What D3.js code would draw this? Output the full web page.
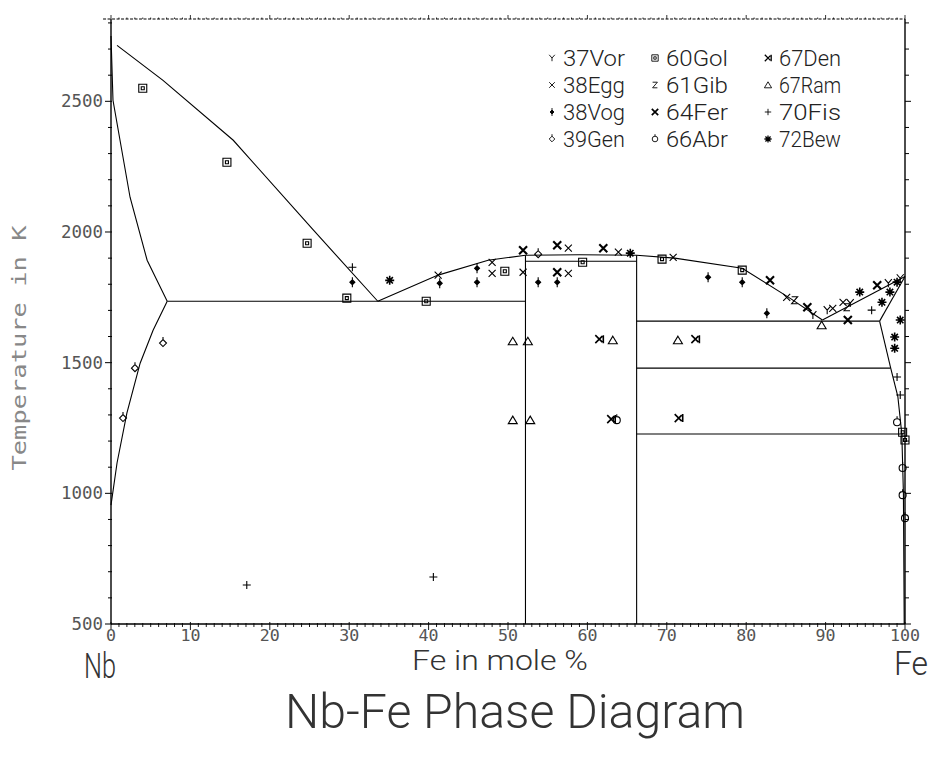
<!DOCTYPE html>
<html><head><meta charset="utf-8">
<script src="https://cdn.jsdelivr.net/npm/d3@7"></script>
<style>
html,body{margin:0;padding:0;background:#fff;}
svg{display:block;}
</style></head>
<body>
<svg id="chart" width="933" height="762"></svg>
<script>
// ---------- DATA ----------
const xTicks = [0,10,20,30,40,50,60,70,80,90,100];
const yTicks = [500,1000,1500,2000,2500];

// phase boundary lines [Fe mole %, T in K]
const nbLiquidus   = [[0.76,2714],[6.55,2580],[15.4,2351],[25.5,2007],[33.6,1735]];
const nbSolidus    = [[0,2750],[0.25,2504],[2.4,2133],[4.55,1892],[7.08,1735]];
const nbSolvus     = [[7.08,1735],[5.3,1624],[3.67,1498],[2.0,1307],[0.76,1116],[0,955]];
const eutecticNb   = [[7.08,1735],[52.2,1735]];
const liquidusMid  = [[33.6,1735],[41.2,1835],[47.5,1892],[52.2,1911],[59,1913],[66.2,1911],[71,1900],[79.5,1861],[85.5,1747],[89.6,1663]];
const muVertical   = [[52.2,1911],[52.2,500]];
const muPeritectic = [[52.2,1888],[66.2,1888]];
const lavesVertical= [[66.2,1911],[66.2,500]];
const liquidusFe   = [[89.6,1663],[100,1830]];
const eutecticFe   = [[66.2,1659],[96.8,1659]];
const deltaSolidus = [[96.8,1659],[100,1830]];
const deltaSolvus  = [[96.8,1659],[98.2,1479]];
const eutectoid1   = [[66.2,1479],[98.2,1479]];
const gammaSolvus  = [[98.2,1479],[99.1,1370],[99.6,1227]];
const eutectoid2   = [[66.2,1227],[99.8,1227]];
const alphaSolvus  = [[99.6,1227],[99.8,1000],[99.9,500]];

// experimental points per source
const s37Vor = [[88.4,1682],[90.2,1701],[93.1,1728],[97.9,1804],[99.4,1823]];
const s38Egg = [[48.0,1884],[48.0,1842],[57.6,1938],[57.6,1842],[63.9,1923],[70.8,1903],[51.9,1846],[41.2,1835],[85.1,1750],[90.9,1708],[92.2,1731]];
const s38Vog = [[30.4,1808],[41.4,1804],[46.1,1861],[46.1,1808],[53.8,1808],[56.2,1808],[75.2,1827],[79.5,1808],[82.6,1689]];
const s39Gen = [[6.55,1575],[3.02,1479],[1.51,1288],[53.8,1915]];
const s60Gol = [[4.0,2550],[14.6,2267],[24.7,1957],[29.7,1747],[39.7,1735],[49.6,1850],[59.4,1884],[69.4,1896],[79.5,1854],[99.7,1234],[100,1204]];
const s61Gib = [[86.1,1739],[92.7,1712]];
const s64Fer = [[51.9,1930],[56.2,1949],[56.2,1846],[62.0,1938],[83.0,1815],[96.5,1796],[92.8,1663],[87.7,1712]];
const s66Abr = [[99.0,1272],[99.7,1097],[99.7,993],[100,905],[63.7,1280]];
const s67Den = [[61.5,1590],[73.6,1590],[71.5,1288],[63.0,1284]];
const s67Ram = [[50.6,1582],[52.5,1582],[63.2,1586],[50.6,1280],[52.8,1280],[71.4,1586],[89.5,1643]];
const s70Fis = [[30.4,1865],[95.8,1701],[99.0,1445],[99.4,1376],[17.1,649],[40.6,680]];
const s72Bew = [[35.1,1815],[65.4,1919],[94.3,1770],[97.1,1731],[98.1,1770],[99.0,1808],[99.4,1663],[98.7,1598],[98.7,1555]];

const legendNames = ["37Vor","38Egg","38Vog","39Gen","60Gol","61Gib","64Fer","66Abr","67Den","67Ram","70Fis","72Bew"];
const legendSymbols = ["Y","x","vog","gen","sq","z","fer","abr","den","tri","plus","star"];
const seriesData = [s37Vor,s38Egg,s38Vog,s39Gen,s60Gol,s61Gib,s64Fer,s66Abr,s67Den,s67Ram,s70Fis,s72Bew];

// ---------- DRAW ----------
const svg = d3.select("#chart");
const x = d3.scaleLinear().domain([0,100]).range([111,905]);
const y = d3.scaleLinear().domain([500,2815]).range([624,19]);
const FONT = "'DejaVu Sans Mono', 'Liberation Mono', monospace";
const BIG = "'Roboto','Lato','DejaVu Sans',sans-serif";
const TXT = "#555";

// frame / axes
const g = svg.append("g");
g.append("line").attr("x1",x(0)).attr("x2",x(0)).attr("y1",y(2815)).attr("y2",y(500)).attr("stroke","#000").attr("stroke-width",1.4);
g.append("line").attr("x1",x(0)).attr("x2",x(100)).attr("y1",y(500)).attr("y2",y(500)).attr("stroke","#000").attr("stroke-width",1.4);
g.append("line").attr("x1",x(100)).attr("x2",x(100)).attr("y1",y(2815)).attr("y2",y(500)).attr("stroke","#000").attr("stroke-width",1.4);
g.append("line").attr("x1",x(-1)).attr("x2",x(100)).attr("y1",y(2815)).attr("y2",y(2815)).attr("stroke","#000").attr("stroke-width",1).attr("stroke-dasharray","3,1.5");

// y ticks every 100
const yMinor = d3.range(500,2801,100);
g.selectAll(".ylt").data(yMinor).join("line")
  .attr("x1",d=>x(0)-(d%500===0?6:3)).attr("x2",x(0)+1)
  .attr("y1",d=>y(d)).attr("y2",d=>y(d)).attr("stroke","#000").attr("stroke-width",1);
g.selectAll(".yrt").data(yMinor).join("line")
  .attr("x1",x(100)).attr("x2",d=>x(100)+(d%500===0?6:4))
  .attr("y1",d=>y(d)).attr("y2",d=>y(d)).attr("stroke","#000").attr("stroke-width",1);
// x ticks every 1 and 10
const xMinor = d3.range(0,101,1);
g.selectAll(".xbt").data(xMinor).join("line")
  .attr("x1",d=>x(d)).attr("x2",d=>x(d))
  .attr("y1",d=>y(500)-(d%10===0?2:1)).attr("y2",d=>y(500)+(d%10===0?6:3))
  .attr("stroke","#000").attr("stroke-width",0.9);
g.selectAll(".xtt").data(xMinor).join("line")
  .attr("x1",d=>x(d)).attr("x2",d=>x(d))
  .attr("y1",y(2815)).attr("y2",d=>y(2815)-(d%10===0?4:1.5))
  .attr("stroke","#000").attr("stroke-width",0.8);

// tick labels
g.selectAll(".xl").data(xTicks).join("text")
  .attr("x",d=>x(d)).attr("y",641).attr("text-anchor","middle")
  .attr("font-family",FONT).attr("font-size",15).attr("fill",TXT)
  .attr("textLength",d=>String(d).length*10).attr("lengthAdjust","spacingAndGlyphs").text(d=>d);
g.selectAll(".yl").data(yTicks).join("text")
  .attr("x",x(0)-8).attr("y",d=>y(d)+6).attr("text-anchor","end")
  .attr("font-family",FONT).attr("font-size",17).attr("fill",TXT)
  .attr("textLength",d=>String(d).length*10.5).attr("lengthAdjust","spacingAndGlyphs").text(d=>d);

// phase lines
const line = d3.line().x(d=>x(d[0])).y(d=>y(d[1]));
const lines = [nbLiquidus,nbSolidus,nbSolvus,eutecticNb,liquidusMid,muVertical,muPeritectic,lavesVertical,
  liquidusFe,eutecticFe,deltaSolidus,deltaSolvus,eutectoid1,gammaSolvus,eutectoid2,alphaSolvus];
svg.append("g").selectAll("path").data(lines).join("path")
  .attr("d",line).attr("fill","none").attr("stroke","#000").attr("stroke-width",1.1);

// symbols
const symPaths = {
  Y:"M-3.5,-4L0,0L3.5,-4M0,0L0,4",
  x:"M-3.5,-3.5L3.5,3.5M-3.5,3.5L3.5,-3.5",
  vog:"M0,-5L0,5M-2.5,0L0,-2.5L2.5,0L0,2.5Z",
  gen:"M0,-6L0,-3M-3.5,0L0,-3.5L3.5,0L0,3.5Z",
  sq:"M-4,-4h8v8h-8ZM-1.5,-1.5h3v3h-3Z",
  z:"M-3,-3.5h6L-3,3.5h6",
  fer:"M-4,-4L4,4M-4,4L4,-4",
  abr:"M0,-6L0,-3.5M3.5,0A3.5,3.5 0 1 1 -3.5,0A3.5,3.5 0 1 1 3.5,0",
  den:"M-4,-4L3,3M-4,4L3,-3M4,-4L4,4",
  tri:"M0,-4L4.5,3.5L-4.5,3.5Z",
  plus:"M-4,0h8M0,-4v8",
  star:"M-4.5,0h9M0,-4.5v9M-3.2,-3.2L3.2,3.2M-3.2,3.2L3.2,-3.2"
};
const symFill = {vog:"#000"};
const symWidth = {fer:2.1, star:1.6, den:1.6};
seriesData.forEach((arr,i)=>{
  const s = legendSymbols[i];
  svg.append("g").selectAll("path").data(arr).join("path")
    .attr("transform",d=>`translate(${x(d[0])},${y(d[1])})`)
    .attr("d",symPaths[s]).attr("fill",symFill[s]||"none")
    .attr("stroke","#000").attr("stroke-width",symWidth[s]||1.1);
});

// legend
const legX = [552,655,768], legY=[58,85,112,139];
legendNames.forEach((n,i)=>{
  const c = Math.floor(i/4), r = i%4;
  const s = legendSymbols[i];
  svg.append("path").attr("transform",`translate(${legX[c]},${legY[r]}) scale(0.8)`)
    .attr("d",symPaths[s]).attr("fill",symFill[s]||"none").attr("stroke","#000").attr("stroke-width",symWidth[s]||1.1);
  svg.append("text").attr("transform",`translate(${legX[c]+11},${legY[r]+7.5}) scale(1,1.15)`)
    .attr("font-family",BIG).attr("font-weight",300).attr("font-size",19).attr("fill","#222")
    .attr("textLength",62).attr("lengthAdjust","spacingAndGlyphs").text(n);
});

// titles
svg.append("text").attr("transform","translate(26,348) rotate(-90)").attr("text-anchor","middle")
  .attr("font-family",FONT).attr("font-size",19).attr("fill","#888")
  .attr("textLength",245).attr("lengthAdjust","spacingAndGlyphs").text("Temperature in K");
svg.append("text").attr("transform","translate(500,670) scale(1,1.35)").attr("text-anchor","middle")
  .attr("font-family",BIG).attr("font-weight",300).attr("font-size",20).attr("fill","#333")
  .attr("textLength",176).attr("lengthAdjust","spacingAndGlyphs").text("Fe in mole %");
svg.append("text").attr("transform","translate(100,678) scale(1,1.4)").attr("text-anchor","middle")
  .attr("font-family",BIG).attr("font-weight",300).attr("font-size",25).attr("fill","#333")
  .attr("textLength",32).attr("lengthAdjust","spacingAndGlyphs").text("Nb");
svg.append("text").attr("transform","translate(911,675) scale(1,1.4)").attr("text-anchor","middle")
  .attr("font-family",BIG).attr("font-weight",300).attr("font-size",24).attr("fill","#333")
  .attr("textLength",34).attr("lengthAdjust","spacingAndGlyphs").text("Fe");
svg.append("text").attr("transform","translate(515,728) scale(1,1.2)").attr("text-anchor","middle")
  .attr("font-family",BIG).attr("font-weight",300).attr("font-size",40).attr("fill","#333")
  .attr("textLength",460).attr("lengthAdjust","spacingAndGlyphs").text("Nb-Fe Phase Diagram");
</script>
</body></html>
